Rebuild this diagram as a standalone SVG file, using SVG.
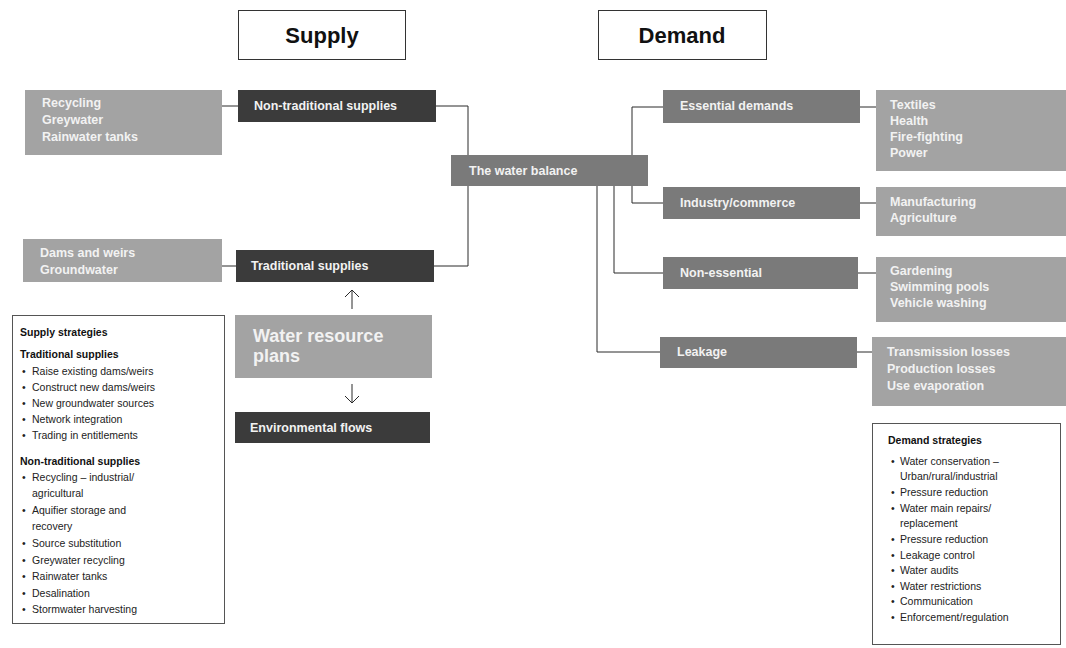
<svg xmlns="http://www.w3.org/2000/svg" width="1066" height="648" viewBox="0 0 1066 648">
<style>
text{font-family:"Liberation Sans",Arial,Helvetica,sans-serif;}
.title{font-size:22px;font-weight:bold;fill:#111;text-anchor:middle;}
.hdr{fill:#fff;stroke:#333;stroke-width:1;}
.dark{fill:#3b3b3b;}
.mid{fill:#7a7a7a;}
.light{fill:#a3a3a3;}
.wt{font-size:12.5px;fill:#f2f2f2;font-weight:bold;}
.big{font-size:18px;fill:#f2f2f2;font-weight:bold;}
.conn{fill:none;stroke:#2a2a2a;stroke-width:1;}
.sbox{fill:#fff;stroke:#555;stroke-width:1;}
.st{font-size:10.5px;fill:#222;}
.sh{font-size:10.5px;fill:#111;font-weight:bold;}
</style>

<g id="supply-title"><rect class="hdr" x="238.5" y="10.5" width="167" height="49"/><text class="title" x="322" y="43">Supply</text></g>
<g id="demand-title"><rect class="hdr" x="598.5" y="10.5" width="168" height="49"/><text class="title" x="682" y="43">Demand</text></g>

<g id="connectors">
<path class="conn" d="M222,106 H238"/>
<path class="conn" d="M436,106 H468 V155"/>
<path class="conn" d="M468,186 V266 H434"/>
<path class="conn" d="M222,266 H236"/>
<path class="conn" d="M632,155 V107 H663"/>
<path class="conn" d="M632,186 V203 H663"/>
<path class="conn" d="M614,186 V273 H663"/>
<path class="conn" d="M597,186 V352 H660"/>
<path class="conn" d="M860,107 H876"/>
<path class="conn" d="M860,203 H876"/>
<path class="conn" d="M858,273 H876"/>
<path class="conn" d="M857,352 H872"/>
<path class="conn" d="M352,309 V290 M345,297 L352,290 L359,297"/>
<path class="conn" d="M352,384 V403 M345,396 L352,403 L359,396"/>
</g>

<g id="recycling"><rect class="light" x="25" y="90" width="197" height="65"/>
<text class="wt" x="42" y="107">Recycling</text><text class="wt" x="42" y="124">Greywater</text><text class="wt" x="42" y="141">Rainwater tanks</text></g>
<g id="non-traditional"><rect class="dark" x="238" y="90" width="198" height="32"/><text class="wt" x="254" y="110">Non-traditional supplies</text></g>
<g id="dams"><rect class="light" x="23" y="239" width="199" height="43"/>
<text class="wt" x="40" y="257">Dams and weirs</text><text class="wt" x="40" y="274">Groundwater</text></g>
<g id="traditional"><rect class="dark" x="236" y="250" width="198" height="32"/><text class="wt" x="251" y="270">Traditional supplies</text></g>
<g id="water-balance"><rect class="mid" x="451" y="155" width="197" height="31"/><text class="wt" x="469" y="175">The water balance</text></g>

<g id="essential"><rect class="mid" x="663" y="90" width="197" height="33"/><text class="wt" x="680" y="110">Essential demands</text></g>
<g id="essential-detail"><rect class="light" x="876" y="90" width="190" height="81"/>
<text class="wt" x="890" y="109">Textiles</text><text class="wt" x="890" y="125">Health</text><text class="wt" x="890" y="141">Fire-fighting</text><text class="wt" x="890" y="157">Power</text></g>
<g id="industry"><rect class="mid" x="663" y="187" width="197" height="32"/><text class="wt" x="680" y="207">Industry/commerce</text></g>
<g id="industry-detail"><rect class="light" x="876" y="187" width="190" height="49"/>
<text class="wt" x="890" y="206">Manufacturing</text><text class="wt" x="890" y="222">Agriculture</text></g>
<g id="non-essential"><rect class="mid" x="663" y="257" width="195" height="32"/><text class="wt" x="680" y="277">Non-essential</text></g>
<g id="non-essential-detail"><rect class="light" x="876" y="257" width="190" height="65"/>
<text class="wt" x="890" y="275">Gardening</text><text class="wt" x="890" y="291">Swimming pools</text><text class="wt" x="890" y="307">Vehicle washing</text></g>
<g id="leakage"><rect class="mid" x="660" y="337" width="197" height="31"/><text class="wt" x="677" y="356">Leakage</text></g>
<g id="leakage-detail"><rect class="light" x="872" y="337" width="194" height="69"/>
<text class="wt" x="887" y="356">Transmission losses</text><text class="wt" x="887" y="373">Production losses</text><text class="wt" x="887" y="390">Use evaporation</text></g>

<g id="water-resource-plans"><rect class="light" x="235" y="315" width="197" height="63"/>
<text class="big" x="253" y="342">Water resource</text><text class="big" x="253" y="362">plans</text></g>
<g id="environmental-flows"><rect class="dark" x="235" y="412" width="195" height="31"/><text class="wt" x="250" y="432">Environmental flows</text></g>

<g id="supply-strategies"><rect class="sbox" x="12.5" y="315.5" width="212" height="308"/>
<text class="sh" x="20" y="336">Supply strategies</text>
<text class="sh" x="20" y="358">Traditional supplies</text>
<text class="st" x="22" y="375">•</text><text class="st" x="32" y="375">Raise existing dams/weirs</text>
<text class="st" x="22" y="391">•</text><text class="st" x="32" y="391">Construct new dams/weirs</text>
<text class="st" x="22" y="407">•</text><text class="st" x="32" y="407">New groundwater sources</text>
<text class="st" x="22" y="423">•</text><text class="st" x="32" y="423">Network integration</text>
<text class="st" x="22" y="439">•</text><text class="st" x="32" y="439">Trading in entitlements</text>
<text class="sh" x="20" y="465">Non-traditional supplies</text>
<text class="st" x="22" y="481">•</text><text class="st" x="32" y="481">Recycling – industrial/</text>
<text class="st" x="32" y="497">agricultural</text>
<text class="st" x="22" y="514">•</text><text class="st" x="32" y="514">Aquifier storage and</text>
<text class="st" x="32" y="530">recovery</text>
<text class="st" x="22" y="547">•</text><text class="st" x="32" y="547">Source substitution</text>
<text class="st" x="22" y="564">•</text><text class="st" x="32" y="564">Greywater recycling</text>
<text class="st" x="22" y="580">•</text><text class="st" x="32" y="580">Rainwater tanks</text>
<text class="st" x="22" y="597">•</text><text class="st" x="32" y="597">Desalination</text>
<text class="st" x="22" y="613">•</text><text class="st" x="32" y="613">Stormwater harvesting</text>
</g>

<g id="demand-strategies"><rect class="sbox" x="872.5" y="423.5" width="188" height="221"/>
<text class="sh" x="888" y="444">Demand strategies</text>
<text class="st" x="891" y="465">•</text><text class="st" x="900" y="465">Water conservation –</text>
<text class="st" x="900" y="480">Urban/rural/industrial</text>
<text class="st" x="891" y="496">•</text><text class="st" x="900" y="496">Pressure reduction</text>
<text class="st" x="891" y="512">•</text><text class="st" x="900" y="512">Water main repairs/</text>
<text class="st" x="900" y="527">replacement</text>
<text class="st" x="891" y="543">•</text><text class="st" x="900" y="543">Pressure reduction</text>
<text class="st" x="891" y="559">•</text><text class="st" x="900" y="559">Leakage control</text>
<text class="st" x="891" y="574">•</text><text class="st" x="900" y="574">Water audits</text>
<text class="st" x="891" y="590">•</text><text class="st" x="900" y="590">Water restrictions</text>
<text class="st" x="891" y="605">•</text><text class="st" x="900" y="605">Communication</text>
<text class="st" x="891" y="621">•</text><text class="st" x="900" y="621">Enforcement/regulation</text>
</g>
</svg>
